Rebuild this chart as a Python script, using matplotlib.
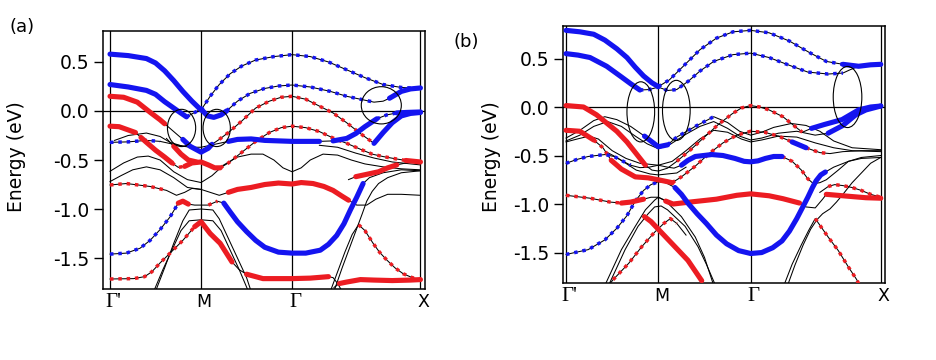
"""Band structure of the two films, panels (a) and (b), with orbital weights."""

import matplotlib
matplotlib.use("Agg")
import matplotlib.pyplot as plt
from matplotlib.patches import Ellipse
from matplotlib.transforms import ScaledTranslation

plt.rcParams["font.family"] = ["DejaVu Sans"]
plt.rcParams["axes.unicode_minus"] = False

K_LABELS = ["Γ'", "M", "Γ", "X"]
K_POINTS = [0.0, 1.0, 2.0, 3.41]
E_TICKS = [0.5, 0.0, -0.5, -1.0, -1.5]

# weight codes per segment: B/R strong blue/red, b/r weak blue/red, - none

# ---- panel (a) ----
A1 = [(0, 0.58), (0.2, 0.565), (0.4, 0.535), (0.5, 0.49), (0.6, 0.41), (0.7, 0.31), (0.8, 0.2),
      (0.9, 0.1), (1.0, 0.01), (1.1, 0.15), (1.2, 0.27), (1.32, 0.38), (1.45, 0.46), (1.6, 0.52),
      (1.8, 0.555), (2.0, 0.575), (2.2, 0.555), (2.4, 0.5), (2.6, 0.42), (2.8, 0.34), (3.0, 0.27),
      (3.2, 0.24), (3.41, 0.23)]
A1_W = "B" * 8 + "b" * 14

A2 = [(0, 0.27), (0.2, 0.245), (0.4, 0.21), (0.5, 0.17), (0.6, 0.095), (0.73, 0.01), (0.84, -0.06),
      (0.92, -0.02), (1.0, 0.02), (1.07, -0.05), (1.14, -0.065), (1.22, -0.04), (1.28, 0.0),
      (1.4, 0.1), (1.54, 0.18), (1.7, 0.23), (1.85, 0.255), (2.0, 0.265), (2.2, 0.245), (2.42, 0.2),
      (2.6, 0.15), (2.75, 0.12), (2.9, 0.09), (3.0, 0.1), (3.07, 0.13), (3.2, 0.2), (3.3, 0.225),
      (3.41, 0.235)]
A2_W = "BBBBBB" + "bb" + "BBBB" + "b" * 10 + "--" + "BBB"

A3 = [(0, 0.15), (0.15, 0.14), (0.3, 0.09), (0.45, -0.02), (0.55, -0.09), (0.6, -0.13), (0.7, -0.21),
      (0.8, -0.29), (0.88, -0.36), (1.0, -0.42), (1.08, -0.38), (1.12, -0.34), (1.2, -0.29),
      (1.3, -0.22), (1.45, -0.1), (1.6, 0.03), (1.75, 0.1), (1.88, 0.14), (2.0, 0.15), (2.15, 0.12),
      (2.3, 0.05), (2.45, -0.02), (2.6, -0.12), (2.75, -0.23), (2.9, -0.33), (3.0, -0.22),
      (3.1, -0.12), (3.2, -0.05), (3.3, -0.025), (3.41, -0.015)]
A3_W = "R" * 5 + "--" + "B" * 4 + "-" + "r" * 12 + "B" * 5

A4 = [(0, -0.32), (0.2, -0.315), (0.4, -0.3), (0.55, -0.31), (0.65, -0.33), (0.75, -0.35),
      (0.9, -0.37), (1.0, -0.37), (1.15, -0.34), (1.3, -0.31), (1.4, -0.29), (1.55, -0.285),
      (1.7, -0.3), (2.0, -0.31), (2.3, -0.31), (2.45, -0.305), (2.6, -0.28), (2.7, -0.23),
      (2.8, -0.16), (2.93, -0.08), (3.04, -0.04), (3.15, -0.02), (3.25, -0.015), (3.41, -0.01)]
A4_W = "bbb" + "-" * 6 + "B" * 5 + "-" + "B" * 4 + "bb" + "BB"

A5 = [(0, -0.155), (0.1, -0.16), (0.22, -0.2), (0.28, -0.22), (0.34, -0.27), (0.4, -0.32),
      (0.5, -0.4), (0.6, -0.47), (0.68, -0.53), (0.75, -0.575), (0.82, -0.565), (0.9, -0.53),
      (1.0, -0.52), (1.08, -0.55), (1.15, -0.58), (1.21, -0.58), (1.3, -0.53), (1.45, -0.42),
      (1.6, -0.31), (1.75, -0.22), (1.88, -0.17), (2.0, -0.155), (2.15, -0.17), (2.3, -0.21),
      (2.46, -0.28), (2.6, -0.33), (2.75, -0.39), (2.88, -0.44), (3.0, -0.465), (3.15, -0.49),
      (3.25, -0.505), (3.41, -0.52)]
A5_W = "RRR" + "-" + "RRRR" + "rr" + "R" * 5 + "r" * 15 + "R"

A6 = [(0.62, -0.28), (0.7, -0.36), (0.78, -0.44), (0.86, -0.5), (0.95, -0.52)]
A6_W = "-RRR"

A7 = [(0, -0.755), (0.18, -0.74), (0.44, -0.77), (0.62, -0.81), (0.73, -0.86), (0.82, -0.83),
      (0.9, -0.79), (1.0, -0.8), (1.1, -0.83), (1.2, -0.86), (1.3, -0.83), (1.4, -0.8),
      (1.55, -0.78), (1.7, -0.75), (1.85, -0.735), (2.0, -0.745), (2.1, -0.73), (2.23, -0.74),
      (2.35, -0.77), (2.45, -0.81), (2.55, -0.87), (2.62, -0.91), (2.71, -0.96), (2.82, -0.96),
      (2.92, -0.9), (3.05, -0.85), (3.2, -0.85), (3.41, -0.86)]
A7_W = "rrr" + "-" * 7 + "R" * 11 + "-" * 6

A8 = [(0, -1.46), (0.18, -1.45), (0.33, -1.4), (0.44, -1.32), (0.55, -1.21), (0.66, -1.08),
      (0.75, -0.94), (0.8, -0.92), (0.86, -0.95), (0.93, -0.96), (1.0, -0.96), (1.08, -0.96),
      (1.13, -0.94), (1.18, -0.92), (1.25, -0.94), (1.32, -1.03), (1.4, -1.13), (1.5, -1.23),
      (1.6, -1.32), (1.7, -1.39), (1.85, -1.44), (2.0, -1.45), (2.15, -1.45), (2.31, -1.42),
      (2.4, -1.36), (2.49, -1.27), (2.57, -1.15), (2.64, -1.01), (2.71, -0.88), (2.78, -0.74),
      (2.85, -0.68), (3.0, -0.63), (3.2, -0.6), (3.41, -0.61)]
A8_W = "b" * 6 + "RR" + "---" + "rr" + "-" + "B" * 15 + "----"

A9 = [(2.62, -0.7), (2.7, -0.67), (2.8, -0.65), (2.95, -0.62), (3.05, -0.58), (3.15, -0.55),
      (3.25, -0.53)]
A9_W = "-RRRR-"

A10 = [(0, -1.714), (0.26, -1.71), (0.38, -1.69), (0.46, -1.64), (0.55, -1.55), (0.66, -1.45),
       (0.8, -1.32), (0.93, -1.18), (1.0, -1.13), (1.1, -1.25), (1.21, -1.35), (1.34, -1.54),
       (1.42, -1.62), (1.5, -1.665), (1.68, -1.71), (2.0, -1.71), (2.2, -1.705), (2.4, -1.69),
       (2.45, -1.7), (2.5, -1.76), (2.55, -1.84)]
A10_W = "r" * 7 + "RRRR" + "--" + "RRRR" + "---"

A11 = [(2.42, -1.84), (2.5, -1.64), (2.58, -1.44), (2.66, -1.26), (2.73, -1.16), (2.8, -1.22),
       (2.89, -1.35), (2.96, -1.44), (3.04, -1.52), (3.13, -1.6), (3.22, -1.66), (3.32, -1.7),
       (3.41, -1.72)]
A11_W = "----" + "r" * 8

A12 = [(2.46, -1.8), (2.52, -1.76), (2.6, -1.745), (2.75, -1.72), (2.9, -1.725), (3.1, -1.73),
       (3.3, -1.725), (3.41, -1.72)]
A12_W = "-RRRRRR"

A_THIN = [
    [(0.5, -1.84), (0.6, -1.6), (0.7, -1.35), (0.8, -1.12), (0.87, -1.01), (1.0, -1.0),
     (1.13, -1.01), (1.2, -1.1), (1.3, -1.3), (1.4, -1.5), (1.5, -1.7), (1.55, -1.84)],
    [(0.48, -1.84), (0.58, -1.62), (0.68, -1.42), (0.78, -1.22), (0.87, -1.12), (1.0, -1.11),
     (1.13, -1.12), (1.22, -1.22), (1.32, -1.42), (1.42, -1.62), (1.52, -1.84)],
    [(0, -0.615), (0.15, -0.53), (0.3, -0.47), (0.42, -0.46), (0.55, -0.5), (0.7, -0.62),
     (0.85, -0.7), (1.0, -0.73), (1.12, -0.66), (1.25, -0.55), (1.4, -0.47), (1.55, -0.44),
     (1.68, -0.44), (1.8, -0.5), (1.9, -0.58), (2.0, -0.62), (2.1, -0.58), (2.2, -0.5),
     (2.34, -0.44), (2.5, -0.45), (2.65, -0.5), (2.8, -0.54), (3.0, -0.57), (3.2, -0.59),
     (3.41, -0.6)],
    [(0, -0.72), (0.12, -0.66), (0.25, -0.6), (0.4, -0.57), (0.55, -0.6), (0.7, -0.68),
     (0.85, -0.78), (1.0, -0.8)],
    [(0.05, -0.3), (0.2, -0.25), (0.4, -0.225), (0.55, -0.26), (0.66, -0.32), (0.8, -0.36),
     (0.9, -0.37)],
    [(2.3, -0.35), (2.5, -0.37), (2.7, -0.43), (2.9, -0.48), (3.1, -0.52), (3.41, -0.55)],
    [(2.46, -1.84), (2.55, -1.6), (2.63, -1.4), (2.71, -1.2), (2.77, -1.05), (2.82, -0.92),
     (2.88, -0.82), (2.95, -0.74), (3.05, -0.68), (3.2, -0.63), (3.41, -0.61)],
]

# circles drawn on panel (a): centre k, centre E, width, height
A_RINGS = [(0.786, -0.173, 0.31, 0.38), (1.172, -0.173, 0.30, 0.38), (2.98, 0.058, 0.44, 0.38)]

# ---- panel (b) ----
B1 = [(0, 0.79), (0.15, 0.775), (0.3, 0.75), (0.42, 0.69), (0.55, 0.6), (0.66, 0.51), (0.75, 0.41),
      (0.84, 0.32), (0.93, 0.25), (1.0, 0.21), (1.12, 0.28), (1.27, 0.42), (1.45, 0.59),
      (1.63, 0.71), (1.81, 0.775), (2.0, 0.79), (2.2, 0.765), (2.42, 0.68), (2.64, 0.56),
      (2.82, 0.47), (3.0, 0.44), (3.17, 0.42), (3.3, 0.435), (3.41, 0.44)]
B1_W = "B" * 9 + "b" * 11 + "BBB"

B2 = [(0, 0.55), (0.13, 0.535), (0.26, 0.51), (0.44, 0.42), (0.6, 0.31), (0.7, 0.24), (0.8, 0.175),
      (0.9, 0.18), (1.0, 0.205), (1.1, 0.17), (1.2, 0.18), (1.33, 0.27), (1.45, 0.37), (1.6, 0.47),
      (1.81, 0.54), (2.0, 0.555), (2.2, 0.51), (2.42, 0.43), (2.62, 0.36), (2.84, 0.34),
      (3.0, 0.35), (3.08, 0.385), (3.17, 0.42)]
B2_W = "B" * 6 + "b" * 14 + "--"

B3 = [(0, 0.015), (0.19, 0.0), (0.33, -0.08), (0.44, -0.165), (0.55, -0.25), (0.66, -0.36),
      (0.76, -0.48), (0.86, -0.6), (0.93, -0.65), (1.0, -0.66), (1.1, -0.63), (1.2, -0.56),
      (1.35, -0.44), (1.5, -0.31), (1.65, -0.18), (1.8, -0.07), (1.9, -0.01), (2.0, 0.015),
      (2.1, 0.0), (2.2, -0.03), (2.35, -0.1), (2.48, -0.2), (2.56, -0.26), (2.66, -0.22),
      (2.8, -0.18), (2.99, -0.13), (3.17, -0.03), (3.3, 0.0), (3.41, 0.01)]
B3_W = "R" * 7 + "----" + "r" * 11 + "-" + "B" * 5

B4 = [(0, -0.24), (0.15, -0.25), (0.3, -0.34), (0.4, -0.42), (0.49, -0.55), (0.6, -0.64),
      (0.75, -0.72), (0.89, -0.73), (1.0, -0.75), (1.15, -0.78), (1.25, -0.72), (1.4, -0.61),
      (1.55, -0.48), (1.7, -0.37), (1.85, -0.29), (2.0, -0.25), (2.15, -0.26), (2.3, -0.3),
      (2.45, -0.36), (2.6, -0.42), (2.75, -0.47), (2.86, -0.48), (3.0, -0.46), (3.2, -0.45),
      (3.41, -0.45)]
B4_W = "RR" + "rr" + "R" * 5 + "r" * 9 + "B" + "rr" + "---"

B5 = [(0, -0.58), (0.12, -0.54), (0.24, -0.51), (0.42, -0.49), (0.52, -0.51), (0.6, -0.55),
      (0.7, -0.6), (0.8, -0.625), (0.9, -0.62), (1.0, -0.6), (1.1, -0.62), (1.17, -0.63),
      (1.25, -0.6), (1.32, -0.55), (1.4, -0.51), (1.58, -0.49), (1.7, -0.5), (1.83, -0.53),
      (1.93, -0.56), (2.0, -0.565), (2.08, -0.555), (2.16, -0.53), (2.25, -0.51), (2.34, -0.51),
      (2.45, -0.56), (2.55, -0.65), (2.62, -0.74), (2.68, -0.79), (2.75, -0.78), (2.82, -0.75),
      (2.95, -0.65), (3.06, -0.56), (3.2, -0.52), (3.41, -0.5)]
B5_W = "b" * 6 + "-" * 6 + "B" * 11 + "rrrr" + "-" * 6

B6 = [(0, -0.91), (0.26, -0.94), (0.48, -0.98), (0.6, -0.99), (0.7, -0.98), (0.84, -0.95),
      (0.92, -0.93), (1.0, -0.93), (1.08, -0.97), (1.16, -1.0), (1.34, -0.98), (1.63, -0.95),
      (1.85, -0.91), (2.0, -0.895), (2.2, -0.915), (2.35, -0.945), (2.53, -0.99), (2.6, -1.03),
      (2.7, -1.04), (2.78, -0.95), (2.82, -0.9), (3.06, -0.92), (3.25, -0.935), (3.41, -0.94)]
B6_W = "rrr" + "RR" + "---" + "R" * 8 + "----" + "RRR"

B6X = [(2.75, -0.88), (2.84, -0.82), (2.91, -0.8), (3.0, -0.81), (3.1, -0.83), (3.2, -0.86),
       (3.3, -0.9), (3.41, -0.93)]
B6X_W = "-" + "r" * 6

B7 = [(0, -1.52), (0.24, -1.47), (0.42, -1.37), (0.55, -1.25), (0.66, -1.12), (0.75, -0.97),
      (0.84, -0.86), (0.92, -0.8), (1.0, -0.77), (1.08, -0.78), (1.18, -0.83), (1.25, -0.9),
      (1.32, -0.99), (1.42, -1.1), (1.52, -1.2), (1.63, -1.32), (1.74, -1.41), (1.87, -1.48),
      (2.0, -1.51), (2.12, -1.5), (2.24, -1.45), (2.34, -1.38), (2.42, -1.28), (2.5, -1.15),
      (2.56, -1.04), (2.62, -0.93), (2.67, -0.83), (2.71, -0.76), (2.76, -0.7), (2.81, -0.67),
      (2.9, -0.62), (3.06, -0.56), (3.2, -0.53), (3.41, -0.52)]
B7_W = "b" * 8 + "--" + "B" * 19 + "----"

B8 = [(0.85, -1.13), (0.92, -1.18), (1.0, -1.26), (1.15, -1.41), (1.32, -1.58), (1.47, -1.79)]
B8_W = "RRRRR"

B9 = [(0.46, -1.84), (0.51, -1.78), (0.68, -1.61), (0.82, -1.44), (0.96, -1.29), (1.06, -1.2),
      (1.13, -1.15), (1.2, -1.2), (1.3, -1.32)]
B9_W = "-rrrrrr-"

B12 = [(2.36, -1.84), (2.45, -1.62), (2.55, -1.42), (2.63, -1.27), (2.7, -1.15), (2.84, -1.34),
       (2.95, -1.48), (3.06, -1.65), (3.15, -1.78), (3.18, -1.84)]
B12_W = "----" + "r" * 5

KB1 = [(0, -0.32), (0.15, -0.24), (0.3, -0.14), (0.42, -0.1), (0.55, -0.13), (0.7, -0.2),
       (0.85, -0.3), (1.0, -0.41), (1.1, -0.39), (1.2, -0.31), (1.4, -0.2), (1.6, -0.1),
       (1.75, -0.16), (1.88, -0.25), (2.0, -0.29), (2.12, -0.26), (2.25, -0.21), (2.44, -0.17),
       (2.6, -0.19), (2.75, -0.25), (2.9, -0.35), (3.1, -0.42), (3.41, -0.44)]
KB1_W = "-" * 6 + "BB" + "bbb" + "-" * 11

KB2 = [(0, -0.35), (0.15, -0.29), (0.3, -0.2), (0.45, -0.15), (0.6, -0.2), (0.75, -0.3),
       (0.88, -0.38), (1.0, -0.43), (1.12, -0.39), (1.3, -0.28), (1.45, -0.2), (1.6, -0.15),
       (1.75, -0.22), (1.88, -0.3), (2.0, -0.34), (2.12, -0.32), (2.3, -0.27), (2.5, -0.25),
       (2.7, -0.29), (2.84, -0.27), (3.0, -0.19), (3.14, -0.08), (3.25, -0.03), (3.41, 0.01)]
KB2_W = "-" * 19 + "BBBB"

B_THIN = [
    [(0, -0.36), (0.12, -0.33), (0.25, -0.3), (0.35, -0.33), (0.5, -0.45), (0.65, -0.53),
     (0.8, -0.58), (1.0, -0.6), (1.15, -0.56), (1.3, -0.45), (1.45, -0.33), (1.6, -0.24),
     (1.75, -0.26), (1.9, -0.33), (2.0, -0.36), (2.12, -0.34), (2.3, -0.3), (2.5, -0.31),
     (2.7, -0.37), (2.9, -0.42), (3.1, -0.45), (3.41, -0.46)],
    [(0.45, -0.47), (0.55, -0.52), (0.76, -0.65), (0.91, -0.69), (1.0, -0.7), (1.2, -0.68),
     (1.3, -0.62)],
    [(0.42, -1.84), (0.6, -1.47), (0.75, -1.23), (0.86, -1.06), (0.96, -0.96), (1.0, -0.93),
     (1.07, -0.96), (1.25, -1.13), (1.4, -1.34), (1.5, -1.55), (1.6, -1.84)],
    [(0.46, -1.84), (0.64, -1.47), (0.78, -1.23), (0.89, -1.1), (0.96, -1.03), (1.03, -1.02),
     (1.1, -1.06), (1.29, -1.23), (1.43, -1.44), (1.52, -1.62), (1.62, -1.84)],
    [(2.4, -1.84), (2.48, -1.63), (2.57, -1.42), (2.65, -1.26), (2.72, -1.16), (2.78, -1.1),
     (2.86, -1.05), (2.93, -0.98), (3.0, -0.9), (3.1, -0.78), (3.2, -0.68), (3.3, -0.58),
     (3.41, -0.52)],
]

B_RINGS = [(0.81, -0.05, 0.30, 0.62), (1.195, -0.035, 0.30, 0.62), (3.05, 0.103, 0.31, 0.63)]

PANEL_A = [(A1, A1_W), (A2, A2_W), (A3, A3_W), (A4, A4_W), (A5, A5_W), (A6, A6_W), (A7, A7_W),
           (A8, A8_W), (A9, A9_W), (A10, A10_W), (A11, A11_W), (A12, A12_W)]
PANEL_B = [(B1, B1_W), (B2, B2_W), (B3, B3_W), (B4, B4_W), (B5, B5_W), (B6, B6_W), (B6X, B6X_W),
           (B7, B7_W), (B8, B8_W), (B9, B9_W), (B12, B12_W), (KB1, KB1_W), (KB2, KB2_W)]

BLUE = "#1414f0"
RED = "#ec1c22"
STYLE = {
    "B": dict(color=BLUE, lw=3.7, solid_capstyle="round", zorder=4),
    "R": dict(color=RED, lw=3.7, solid_capstyle="round", zorder=4),
    "b": dict(color=BLUE, lw=2.5, linestyle=(0, (1, 1.4)), dash_capstyle="butt", zorder=3),
    "r": dict(color=RED, lw=2.5, linestyle=(0, (1, 1.4)), dash_capstyle="butt", zorder=3),
}


def draw_band(ax, pts, weights):
    ks = [p[0] for p in pts]
    es = [p[1] for p in pts]
    ax.plot(ks, es, color="black", lw=0.75, zorder=2)
    i = 0
    while i < len(weights):
        code = weights[i]
        j = i
        while j < len(weights) and weights[j] == code:
            j += 1
        if code != "-":
            ax.plot(ks[i:j + 1], es[i:j + 1], **STYLE[code])
        i = j


def setup_axes(ax, xlim, ylim, label_x, label_y):
    ax.set_xlim(*xlim)
    ax.set_ylim(*ylim)
    for k in K_POINTS:
        ax.axvline(k, color="black", lw=0.9, zorder=1)
    ax.axhline(0.0, color="black", lw=0.9, zorder=1)
    for sp in ax.spines.values():
        sp.set_linewidth(1.1)
    ax.set_yticks(E_TICKS)
    ax.set_yticklabels([f"{v:.1f}" for v in E_TICKS], fontsize=13.5)
    ax.tick_params(axis="y", direction="out", length=6.5, width=1.0, pad=3)
    ax.set_xticks(K_POINTS)
    ax.set_xticklabels(K_LABELS)
    ax.tick_params(axis="x", length=0, pad=3)
    shift = ScaledTranslation(3 / 100, 0, ax.figure.dpi_scale_trans)
    for lab in ax.get_xticklabels():
        if lab.get_text().startswith("Γ"):
            lab.set_fontfamily("Liberation Serif")
            lab.set_fontsize(15)
        else:
            lab.set_fontsize(12.5)
        lab.set_transform(lab.get_transform() + shift)
    ax.set_ylabel("Energy (eV)", fontsize=13.5)
    ax.yaxis.set_label_coords(label_x, label_y)


fig = plt.figure(figsize=(9.36, 3.6), dpi=100)
ax_a = fig.add_axes([103 / 936, 71 / 360, 322 / 936, 258 / 360])
ax_b = fig.add_axes([563 / 936, 77 / 360, 322 / 936, 257 / 360])

setup_axes(ax_a, (-0.077, 3.46), (-1.816, 0.816), -0.239, 0.512)
setup_axes(ax_b, (-0.033, 3.456), (-1.814, 0.835), -0.193, 0.49)

for pts, w in PANEL_A:
    draw_band(ax_a, pts, w)
for pts in A_THIN:
    draw_band(ax_a, pts, "-" * (len(pts) - 1))
for pts, w in PANEL_B:
    draw_band(ax_b, pts, w)
for pts in B_THIN:
    draw_band(ax_b, pts, "-" * (len(pts) - 1))

for ax, rings in ((ax_a, A_RINGS), (ax_b, B_RINGS)):
    for kc, ec, w, h in rings:
        ax.add_patch(Ellipse((kc, ec), w, h, fill=False, ec="black", lw=0.8, zorder=5))

fig.text(22 / 936, 1 - 27 / 360, "(a)", fontsize=13, ha="center", va="center")
fig.text(466 / 936, 1 - 42 / 360, "(b)", fontsize=13, ha="center", va="center")

fig.savefig("out.png", dpi=100)
